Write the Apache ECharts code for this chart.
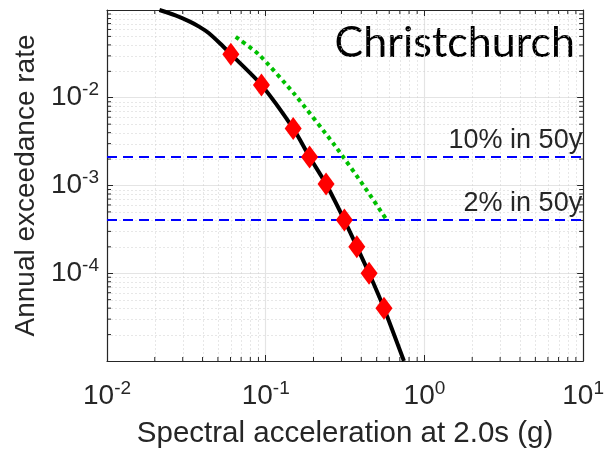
<!DOCTYPE html>
<html>
<head>
<meta charset="utf-8">
<script src="https://cdn.jsdelivr.net/npm/echarts@6/dist/echarts.min.js"></script>
<style>
  html, body { margin: 0; padding: 0; background: #fff; }
  #main { width: 607px; height: 454px; }
</style>
</head>
<body>
<div id="main"></div>
<script>
  // hazard curve (Sa in g, annual rate)
  var curveSa = [0.0214, 0.0270, 0.0330, 0.0385, 0.0439, 0.0514, 0.0603, 0.094, 0.149, 0.189, 0.240, 0.313, 0.375, 0.448, 0.556, 0.743]
  var curveRate = [0.1, 0.0868, 0.0741, 0.0638, 0.0543, 0.0418, 0.0314, 0.0140, 0.00447, 0.00211, 0.00104, 0.000404, 0.000201, 0.0001, 0.00004, 0.00001]
  // red diamonds
  var markSa = [0.0603, 0.094, 0.149, 0.189, 0.240, 0.313, 0.375, 0.448, 0.556]
  var markRate = [0.0314, 0.0140, 0.00447, 0.00211, 0.00104, 0.000404, 0.000201, 0.0001, 0.00004]
  // green dotted curve
  var greenSa = [0.0647, 0.090, 0.153, 0.272, 0.425, 0.578]
  var greenRate = [0.0493, 0.0314, 0.0108, 0.00287, 0.00093, 0.000405]
  // design levels
  var levelRates = [0.00211, 0.000404]
  var levelNames = ['10% in 50y', '2% in 50y']
  // axis limits
  var xMin = 0.01, xMax = 10
  var yMin = 1e-5, yMax = 0.1

  var txt = '#262626'
  var font = 'Liberation Sans'

  function pairs (xs, ys) {
    return xs.map(function (x, i) { return [x, ys[i]] })
  }

  // minor tick values 2..9 in each decade
  function minorVals (lo, hi) {
    var out = []
    for (var e = lo; e < hi; e++) {
      for (var m = 2; m <= 9; m++) out.push(+(m * Math.pow(10, e)).toPrecision(3))
    }
    return out
  }
  var minorX = minorVals(-2, 1)
  var minorY = minorVals(-5, -1)

  function powLabel (hide) {
    return function (v) {
      var e = Math.round(Math.log10(v))
      if (hide.indexOf(e) >= 0) return ''
      return '{b|10}{s|' + e + '}'
    }
  }
  var rich = {
    b: { fontSize: 28, fontFamily: font, color: txt },
    s: { fontSize: 19, fontFamily: font, color: txt, padding: [0, 0, 15, 0] }
  }

  function logAxis (extra) {
    var base = {
      type: 'log',
      logBase: 10,
      axisLine: { show: true, lineStyle: { color: txt, width: 1.2 } },
      axisTick: { show: true, inside: true, length: 6, lineStyle: { color: txt } },
      splitLine: { show: true, lineStyle: { color: '#e4e4e4', width: 1.2 } }
    }
    return Object.assign(base, extra)
  }

  // dotted minor grid + small inside ticks, placed through the axes
  function minorRender (vertical) {
    return function (params, api) {
      var v = api.value(vertical ? 0 : 1)
      var a, b, t1, t2
      if (vertical) {
        a = api.coord([v, yMin]); b = api.coord([v, yMax])
        t1 = [[a[0], a[1]], [a[0], a[1] - 4]]
        t2 = [[b[0], b[1]], [b[0], b[1] + 4]]
      } else {
        a = api.coord([xMin, v]); b = api.coord([xMax, v])
        t1 = [[a[0], a[1]], [a[0] + 4, a[1]]]
        t2 = [[b[0], b[1]], [b[0] - 4, b[1]]]
      }
      var x0 = Math.round(a[0]) + 0.5, y0 = Math.round(a[1]) + 0.5
      var x1 = Math.round(b[0]) + 0.5, y1 = Math.round(b[1]) + 0.5
      if (vertical) { x1 = x0 } else { y1 = y0 }
      return {
        type: 'group',
        children: [
          { type: 'line', shape: { x1: x0, y1: y0, x2: x1, y2: y1 },
            style: { stroke: '#cfcfcf', lineWidth: 1, lineDash: [1, 3] } },
          { type: 'line', shape: { x1: t1[0][0], y1: t1[0][1], x2: t1[1][0], y2: t1[1][1] },
            style: { stroke: txt, lineWidth: 1 } },
          { type: 'line', shape: { x1: t2[0][0], y1: t2[0][1], x2: t2[1][0], y2: t2[1][1] },
            style: { stroke: txt, lineWidth: 1 } }
        ]
      }
    }
  }

  var myChart = echarts.init(document.getElementById('main'))
  var option = {
    animation: false,
    grid: { left: 107, top: 10, right: 19, bottom: 90, show: false },
    xAxis: [
      logAxis({
        min: xMin, max: xMax,
        name: 'Spectral acceleration at 2.0s (g)',
        nameLocation: 'middle',
        nameGap: 58,
        nameTextStyle: { fontSize: 29.5, fontFamily: font, color: txt },
        axisLabel: { margin: 18, formatter: powLabel([]), rich: rich }
      }),
      logAxis({
        min: xMin, max: xMax, position: 'top',
        axisLabel: { show: false }, splitLine: { show: false }
      })
    ],
    yAxis: [
      logAxis({
        min: yMin, max: yMax,
        name: 'Annual exceedance rate',
        nameLocation: 'middle',
        nameGap: 66,
        nameTextStyle: { fontSize: 28, fontFamily: font, color: txt },
        axisLabel: { margin: 8, formatter: powLabel([-1, -5]), rich: rich }
      }),
      logAxis({
        min: yMin, max: yMax, position: 'right',
        axisLabel: { show: false }, splitLine: { show: false }
      })
    ],
    graphic: [{
      type: 'text',
      right: 32,
      top: 22,
      style: { text: 'Christchurch', fontSize: 43, fontFamily: 'Lato', fill: '#000' }
    }],
    series: [
      {
        name: 'minorX',
        type: 'custom',
        silent: true,
        renderItem: minorRender(true),
        data: minorX.map(function (v) { return [v, 1e-3] }),
        z: 0
      },
      {
        name: 'minorY',
        type: 'custom',
        silent: true,
        renderItem: minorRender(false),
        data: minorY.map(function (v) { return [0.1, v] }),
        z: 0
      },
      {
        name: 'green',
        type: 'line',
        data: pairs(greenSa, greenRate),
        smooth: 0.2,
        symbol: 'none',
        lineStyle: { color: '#00c000', width: 4, type: [4, 4] },
        z: 3
      },
      {
        name: 'hazard',
        type: 'line',
        data: pairs(curveSa, curveRate),
        smooth: 0.25,
        symbol: 'none',
        lineStyle: { color: '#000', width: 4 },
        z: 4,
        markLine: {
          silent: true,
          symbol: 'none',
          lineStyle: { color: '#0000ff', width: 2.2, type: [10, 6] },
          label: {
            position: 'insideEndTop',
            distance: [1, 3],
            fontSize: 27,
            fontFamily: font,
            color: txt,
            formatter: function (p) { return p.name }
          },
          data: levelRates.map(function (r, i) {
            return [{ name: levelNames[i], coord: [xMin, r] }, { coord: [xMax, r] }]
          })
        }
      },
      {
        name: 'points',
        type: 'scatter',
        data: pairs(markSa, markRate),
        symbol: 'diamond',
        symbolSize: [17, 23],
        itemStyle: { color: '#ff0000', opacity: 1 },
        z: 5
      }
    ]
  }
  myChart.setOption(option)
</script>
</body>
</html>
